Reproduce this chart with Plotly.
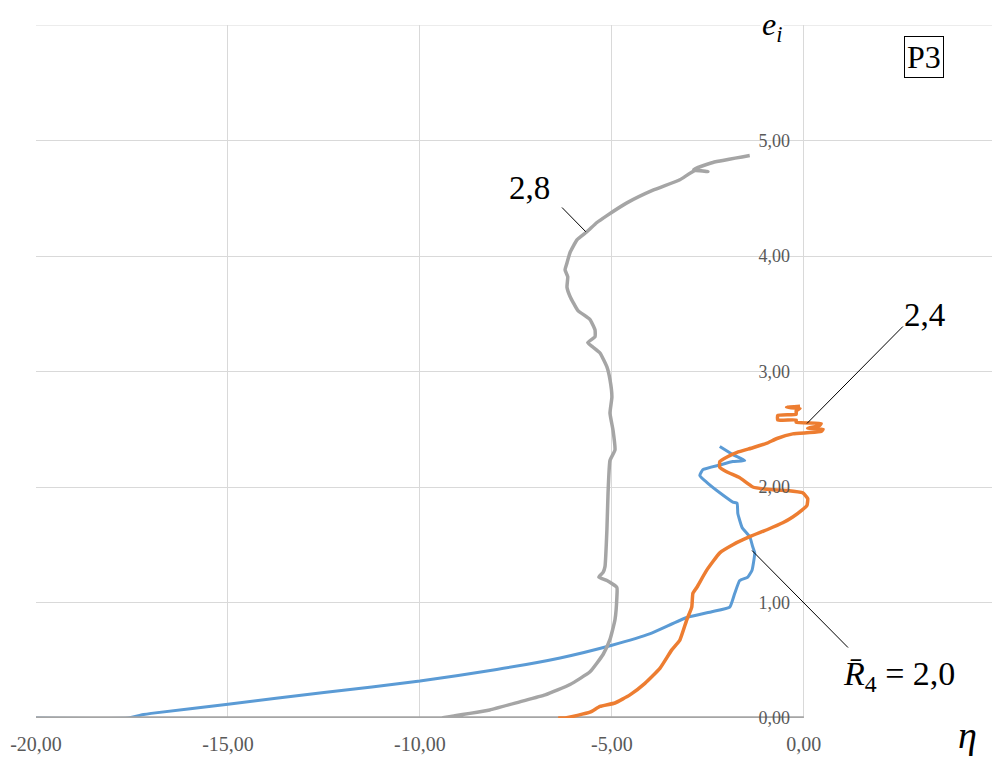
import plotly.graph_objects as go

# curve R4 = 2,0 (blue)
eta_20 = [-20.0, -17.6, -17.2, -17.0, -15.0, -12.5, -10.0, -8.0, -6.35, -5.0, -4.0, -3.05, -2.4,
          -1.93, -1.80, -1.67, -1.46, -1.35, -1.28, -1.33, -1.41, -1.61, -1.72, -1.74, -1.85,
          -2.19, -2.53, -2.71, -2.63, -2.19, -1.85, -1.54, -1.85, -2.19]
e_20 = [0.0, 0.0, 0.03, 0.04, 0.12, 0.22, 0.32, 0.42, 0.52, 0.63, 0.73, 0.87, 0.92,
        0.96, 1.08, 1.19, 1.22, 1.28, 1.43, 1.48, 1.57, 1.65, 1.77, 1.86, 1.87,
        1.95, 2.04, 2.10, 2.15, 2.19, 2.22, 2.23, 2.28, 2.35]

# curve 2,8 (gray)
eta_28 = [0.0, -20.0, -9.48, -9.09, -8.70, -8.18, -7.40, -6.74, -6.09, -5.57, -5.23, -5.05,
          -4.92, -4.87, -4.87, -5.13, -5.34, -5.23, -5.18, -5.13, -5.10, -5.05, -4.92, -4.97,
          -5.05, -5.00, -5.05, -5.13, -5.31, -5.49, -5.63, -5.44, -5.44, -5.57, -5.89, -6.09,
          -6.17, -6.15, -6.22, -6.17, -6.09, -5.91, -5.65, -5.39, -5.13, -4.61, -3.93, -3.23,
          -2.84, -2.50, -2.87, -2.37, -1.41]
e_28 = [0.0, 0.0, 0.0, 0.02, 0.04, 0.07, 0.14, 0.20, 0.29, 0.40, 0.55, 0.68,
        0.85, 1.05, 1.13, 1.19, 1.22, 1.26, 1.31, 1.63, 1.95, 2.23, 2.32, 2.49,
        2.64, 2.78, 2.93, 3.04, 3.16, 3.21, 3.25, 3.30, 3.36, 3.45, 3.53, 3.65,
        3.73, 3.82, 3.88, 3.94, 4.03, 4.14, 4.21, 4.29, 4.35, 4.46, 4.57, 4.66,
        4.74, 4.73, 4.75, 4.81, 4.87]

# curve 2,4 (orange)
eta_24 = [-6.4, -6.22, -5.57, -5.31, -4.92, -4.53, -4.14, -3.75, -3.44, -3.23, -3.05, -2.92,
          -2.89, -2.79, -2.53, -2.19, -1.85, -1.41, -0.96, -0.55, -0.29, -0.05, 0.08, 0.10,
          -0.03, -0.44, -0.96, -1.33, -1.67, -2.0, -2.19, -2.19, -2.0, -1.74, -1.33, -0.96,
          -0.70, -0.29, 0.08, 0.45, 0.50, 0.10, 0.40, 0.45, -0.20, -0.20, -0.68, -0.68,
          -0.20, -0.20, -0.10, -0.45, -0.10]
e_24 = [0.0, 0.0, 0.05, 0.10, 0.13, 0.20, 0.30, 0.43, 0.59, 0.675, 0.85, 0.96,
        1.08, 1.13, 1.28, 1.43, 1.50, 1.57, 1.63, 1.69, 1.74, 1.80, 1.84, 1.90,
        1.95, 1.97, 1.98, 2.00, 2.08, 2.13, 2.17, 2.22, 2.26, 2.30, 2.34, 2.38,
        2.42, 2.46, 2.47, 2.48, 2.50, 2.51, 2.53, 2.55, 2.56, 2.58, 2.58, 2.62,
        2.63, 2.66, 2.68, 2.69, 2.70]

x_ticks = [-20, -15, -10, -5, 0]
x_labels = ["-20,00", "-15,00", "-10,00", "-5,00", "0,00"]
y_ticks = [0, 1, 2, 3, 4, 5]
y_labels = ["0,00", "1,00", "2,00", "3,00", "4,00", "5,00"]

fig = go.Figure()
fig.add_trace(go.Scatter(x=eta_20, y=e_20, mode="lines",
                         line=dict(color="#5b9bd5", width=3, shape="spline", smoothing=0.4)))
fig.add_trace(go.Scatter(x=eta_28, y=e_28, mode="lines",
                         line=dict(color="#a5a5a5", width=3.5, shape="spline", smoothing=0.4)))
fig.add_trace(go.Scatter(x=eta_24, y=e_24, mode="lines",
                         line=dict(color="#ed7d31", width=3.5, shape="spline", smoothing=0.4)))

serif = "Liberation Serif"

# top border gridline (e = 6)
fig.add_shape(type="line", xref="paper", yref="y", x0=0, x1=1, y0=6, y1=6,
              line=dict(color="#d9d9d9", width=1), layer="below")

# leader lines for curve labels
for x0, y0, x1, y1 in [(-6.30, 4.42, -5.68, 4.21),
                       (2.58, 3.39, 0.08, 2.55),
                       (1.15, 0.61, -1.35, 1.45)]:
    fig.add_shape(type="line", xref="x", yref="y", x0=x0, y0=y0, x1=x1, y1=y1,
                  line=dict(color="black", width=1))

fig.add_annotation(x=-7.14, y=4.59, text="2,8", showarrow=False,
                   font=dict(family=serif, size=33, color="black"))
fig.add_annotation(x=3.15, y=3.49, text="2,4", showarrow=False,
                   font=dict(family=serif, size=33, color="black"))
fig.add_annotation(x=2.47, y=0.36, text="<i>R̄</i><sub>4</sub> = 2,0", showarrow=False,
                   font=dict(family=serif, size=34, color="black"))
fig.add_annotation(x=3.13, y=5.72, text="P3", showarrow=False,
                   font=dict(family=serif, size=32, color="black"),
                   bordercolor="black", borderwidth=1, borderpad=2, bgcolor="white")
fig.add_annotation(x=-0.83, y=5.99, text="<i>e<sub>i</sub></i>", showarrow=False,
                   font=dict(family=serif, size=32, color="black"), bgcolor="white")
fig.add_annotation(xref="paper", yref="paper", x=0.986, y=-0.058, text="<i>η</i>",
                   showarrow=False, font=dict(family=serif, size=38, color="black"))

fig.update_layout(
    width=992, height=758,
    margin=dict(l=36, r=0, t=25, b=40),
    paper_bgcolor="white", plot_bgcolor="white",
    showlegend=False,
    xaxis=dict(range=[-20, 4.9], tickvals=x_ticks, ticktext=x_labels, automargin=False,
               showgrid=True, gridcolor="#d9d9d9", gridwidth=1, zeroline=False,
               showline=False, ticks="", ticklabelstandoff=12,
               tickfont=dict(family=serif, size=20, color="#595959")),
    yaxis=dict(range=[0, 6], tickvals=y_ticks, ticktext=y_labels, automargin=False,
               anchor="free", position=(804 - 36) / 956,
               showgrid=True, gridcolor="#d9d9d9", gridwidth=1, zeroline=False,
               showline=False, ticks="", ticklabelstandoff=14,
               tickfont=dict(family=serif, size=18, color="#595959")),
)

# drop the default 8px page margin so the figure sits at the window's corner
fig.write_html("out.html", config={"displayModeBar": False},
               post_script="document.body.style.margin='0px';")
